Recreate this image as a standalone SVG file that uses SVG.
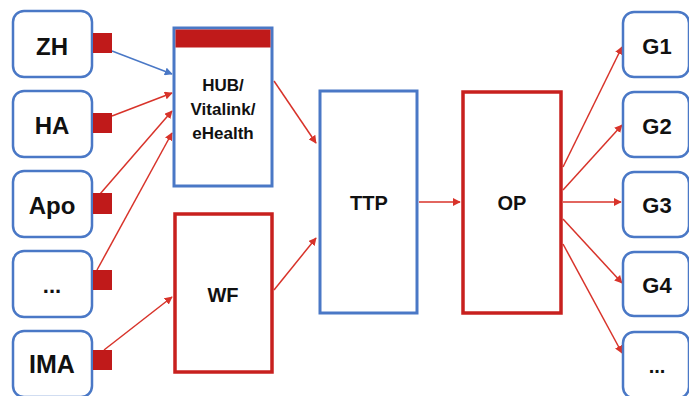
<svg xmlns="http://www.w3.org/2000/svg" width="689" height="396" viewBox="0 0 689 396">
<style>
.src{fill:#fff;stroke:#4a78c6;stroke-width:2.5}
.sq{fill:#c01a1a}
.blue{fill:#fff;stroke:#4a78c6;stroke-width:3}
.red{fill:#fff;stroke:#c8201e;stroke-width:3.5}
.t{font-family:"Liberation Sans",Arial,sans-serif;font-weight:bold;fill:#111;text-anchor:middle;dominant-baseline:central}
.c{stroke:#d8332a;stroke-width:1.5;fill:none;marker-end:url(#ar)}
.cb{stroke:#4a78c6;stroke-width:1.5;fill:none;marker-end:url(#ab)}
</style>
<defs>
<marker id="ar" viewBox="0 0 10 10" refX="9" refY="5" markerWidth="8" markerHeight="8" orient="auto" markerUnits="userSpaceOnUse"><path d="M0,0L10,5L0,10z" fill="#d8332a"/></marker>
<marker id="ab" viewBox="0 0 10 10" refX="9" refY="5" markerWidth="8" markerHeight="8" orient="auto" markerUnits="userSpaceOnUse"><path d="M0,0L10,5L0,10z" fill="#4a78c6"/></marker>
</defs>
<rect width="689" height="396" fill="#fff"/>
<g id="connectors">
<line class="cb" x1="112" y1="51" x2="172" y2="74"/>
<line class="c" x1="112" y1="116" x2="172" y2="93"/>
<line class="c" x1="100" y1="194" x2="172" y2="111"/>
<line class="c" x1="97" y1="270" x2="172" y2="133"/>
<line class="c" x1="104" y1="350" x2="172" y2="297"/>
<line class="c" x1="274" y1="81" x2="316" y2="143"/>
<line class="c" x1="274" y1="290" x2="316" y2="238"/>
<line class="c" x1="419" y1="202" x2="460" y2="202"/>
<line class="c" x1="563" y1="167" x2="622" y2="47"/>
<line class="c" x1="563" y1="190" x2="622" y2="125"/>
<line class="c" x1="563" y1="202" x2="621" y2="202"/>
<line class="c" x1="563" y1="219" x2="622" y2="283"/>
<line class="c" x1="563" y1="244" x2="622" y2="353"/>
</g>
<g id="ZH"><rect class="src" x="13" y="11" width="79" height="66" rx="11"/><rect class="sq" x="93" y="33" width="19" height="20"/><text class="t" x="52" y="46" font-size="24">ZH</text></g>
<g id="HA"><rect class="src" x="13" y="91" width="79" height="66" rx="11"/><rect class="sq" x="93" y="113" width="19" height="20"/><text class="t" x="52" y="125" font-size="24">HA</text></g>
<g id="Apo"><rect class="src" x="13" y="171" width="79" height="66" rx="11"/><rect class="sq" x="93" y="193" width="19" height="21"/><text class="t" x="52" y="205" font-size="24">Apo</text></g>
<g id="dots1"><rect class="src" x="13" y="251" width="79" height="66" rx="11"/><rect class="sq" x="93" y="270" width="19" height="20"/><text class="t" x="52" y="285" font-size="22">...</text></g>
<g id="IMA"><rect class="src" x="13" y="331" width="79" height="66" rx="11"/><rect class="sq" x="93" y="350" width="19" height="20"/><text class="t" x="52" y="364" font-size="25">IMA</text></g>
<g id="HUB"><rect class="blue" x="174" y="28" width="98" height="158"/><rect x="175.5" y="29.5" width="95" height="18" fill="#c01a1a"/><text class="t" x="223" y="85" font-size="17">HUB/</text><text class="t" x="223" y="109" font-size="17">Vitalink/</text><text class="t" x="223" y="133" font-size="17">eHealth</text></g>
<g id="WF"><rect class="red" x="175" y="214" width="97" height="158"/><text class="t" x="223" y="295" font-size="20">WF</text></g>
<g id="TTP"><rect class="blue" x="320" y="91" width="97" height="222"/><text class="t" x="369" y="203" font-size="20">TTP</text></g>
<g id="OP"><rect class="red" x="463" y="92" width="98" height="221"/><text class="t" x="512" y="203" font-size="20">OP</text></g>
<g id="G1"><rect class="src" x="623" y="12" width="66" height="65" rx="11"/><text class="t" x="657" y="46" font-size="22">G1</text></g>
<g id="G2"><rect class="src" x="623" y="92" width="66" height="65" rx="11"/><text class="t" x="657" y="126" font-size="22">G2</text></g>
<g id="G3"><rect class="src" x="623" y="172" width="66" height="65" rx="11"/><text class="t" x="657" y="205" font-size="22">G3</text></g>
<g id="G4"><rect class="src" x="623" y="252" width="66" height="64" rx="11"/><text class="t" x="657" y="285" font-size="22">G4</text></g>
<g id="dots2"><rect class="src" x="623" y="332" width="66" height="66" rx="11"/><text class="t" x="657" y="366" font-size="20">...</text></g>
</svg>
